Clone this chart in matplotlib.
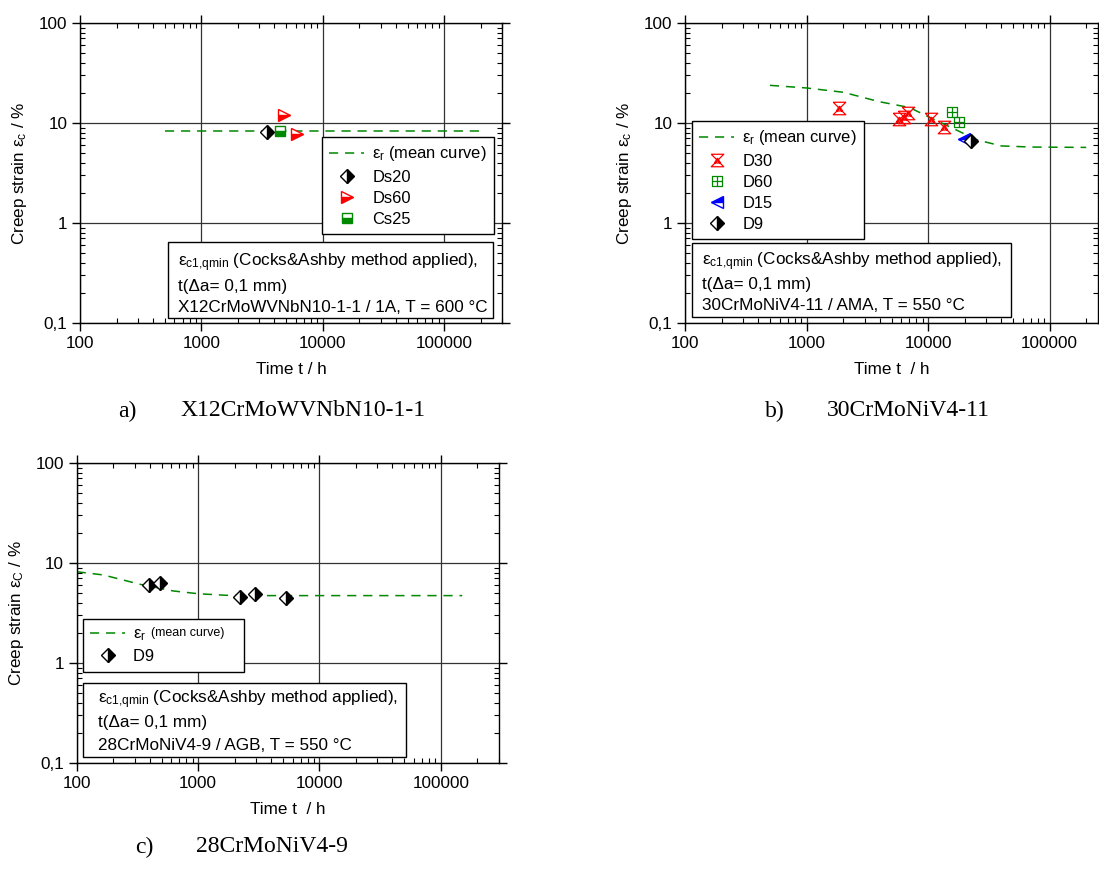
import matplotlib
matplotlib.use('Agg')
import matplotlib.pyplot as plt
from matplotlib.path import Path
from matplotlib.patches import Rectangle
from matplotlib.ticker import FixedLocator, FixedFormatter, LogLocator, NullFormatter

plt.rcParams['font.family'] = ['Liberation Sans', 'DejaVu Sans']
plt.rcParams['mathtext.fontset'] = 'custom'
plt.rcParams['mathtext.rm'] = 'Liberation Sans'
plt.rcParams['mathtext.it'] = 'Liberation Sans:italic'
plt.rcParams['mathtext.bf'] = 'Liberation Sans:bold'

# ---------------- data ----------------
xtick_vals = [100, 1000, 10000, 100000]
xtick_labels = ['100', '1000', '10000', '100000']
ytick_vals = [0.1, 1, 10, 100]
ytick_labels = ['0,1', '1', '10', '100']

# panel a: X12CrMoWVNbN10-1-1
a_mean_t = [500, 200000]
a_mean_e = [8.35, 8.35]
a_ds20_t = [3460]
a_ds20_e = [8.2]
a_ds60_t = [4830, 6110]
a_ds60_e = [12.0, 7.7]
a_cs25_t = [4460]
a_cs25_e = [8.3]

# panel b: 30CrMoNiV4-11
b_mean_t = [500, 1000, 2000, 4000, 7000, 10000, 16000, 25000, 40000, 70000, 200000]
b_mean_e = [23.8, 22.4, 20.3, 16.3, 14.3, 11.6, 8.85, 6.8, 5.9, 5.75, 5.7]
b_d30_t = [1840, 5730, 6300, 6850, 10470, 13500]
b_d30_e = [14.2, 10.9, 11.5, 12.7, 10.9, 9.2]
b_d60_t = [15800, 17900]
b_d60_e = [13.0, 10.3]
b_d15_t = [19700]
b_d15_e = [6.9]
b_d9_t = [22400]
b_d9_e = [6.6]

# panel c: 28CrMoNiV4-9
c_mean_t = [100, 166, 333, 627, 1000, 1725, 3000, 150000]
c_mean_e = [8.18, 7.59, 6.12, 5.25, 4.93, 4.75, 4.72, 4.72]
c_d9_t = [397, 486, 2220, 2970, 5280]
c_d9_e = [6.03, 6.26, 4.54, 4.86, 4.47]

# ---------------- figure ----------------
W, H = 1099, 873
fig = plt.figure(figsize=(W / 100, H / 100), dpi=100)


def fx(px):
    return px / W


def fy(py):
    return 1 - py / H


GREEN = '#008800'
RED = '#ff0000'
BLUE = '#0000ff'
FS = 12.3
LFS = 11.9

# custom markers
hourglass = Path([(-1, 1), (1, 1), (-1, -1), (1, -1), (-1, 1),
                  (-0.5, -0.4), (0.5, -0.4), (0, 0.35), (-0.5, -0.4)],
                 [Path.MOVETO, Path.LINETO, Path.LINETO, Path.LINETO, Path.LINETO,
                  Path.MOVETO, Path.LINETO, Path.LINETO, Path.LINETO])
boxplus = Path([(-1, -1), (1, -1), (1, 1), (-1, 1), (-1, -1),
                (0, -1), (0, 1), (-1, 0), (1, 0)],
               [Path.MOVETO, Path.LINETO, Path.LINETO, Path.LINETO, Path.CLOSEPOLY,
                Path.MOVETO, Path.LINETO, Path.MOVETO, Path.LINETO])

mean_style = dict(color=GREEN, lw=1.1, linestyle=(0, (6, 4.5)))
d9_style = dict(linestyle='none', marker='D', ms=7.5, fillstyle='right',
                markerfacecolor='black', markerfacecoloralt='white',
                markeredgecolor='black', mew=1)
EPS_C1 = 'ε$_\\mathrm{c1{,}qmin}$ (Cocks&Ashby method applied),'


def setup(ax, xmax, xlabel, ylabel):
    ax.set_xscale('log')
    ax.set_yscale('log')
    ax.set_xlim(100, xmax)
    ax.set_ylim(0.1, 100)
    ax.xaxis.set_major_locator(FixedLocator(xtick_vals))
    ax.xaxis.set_major_formatter(FixedFormatter(xtick_labels))
    ax.yaxis.set_major_locator(FixedLocator(ytick_vals))
    ax.yaxis.set_major_formatter(FixedFormatter(ytick_labels))
    ax.xaxis.set_minor_locator(LogLocator(base=10, subs=range(2, 10), numticks=20))
    ax.yaxis.set_minor_locator(LogLocator(base=10, subs=range(2, 10), numticks=20))
    ax.xaxis.set_minor_formatter(NullFormatter())
    ax.yaxis.set_minor_formatter(NullFormatter())
    ax.tick_params(which='major', direction='out', length=6, width=1,
                   top=True, right=True, labelsize=FS, pad=3)
    ax.tick_params(which='minor', direction='in', length=3.5, width=0.8,
                   top=True, right=True)
    ax.grid(True, which='major', color='#333333', lw=0.9)
    for s in ax.spines.values():
        s.set_linewidth(1)
        s.set_color('black')
    ax.set_xlabel(xlabel, fontsize=FS, labelpad=8)
    ax.set_ylabel(ylabel, fontsize=FS, labelpad=7)


def textbox(x0, y0, x1, y1, lines, ys, tx):
    fig.add_artist(Rectangle((fx(x0), fy(y1)), fx(x1) - fx(x0), fy(y0) - fy(y1),
                             transform=fig.transFigure, facecolor='white',
                             edgecolor='black', lw=1, zorder=5))
    for s, yy in zip(lines, ys):
        fig.text(fx(tx), fy(yy), s, fontsize=FS, ha='left', va='center', zorder=6)


def legend(ax, x0, y0, **kw):
    leg = ax.legend(loc='upper left', bbox_to_anchor=(fx(x0), fy(y0)),
                    bbox_transform=fig.transFigure, frameon=True, fancybox=False,
                    edgecolor='black', framealpha=1, fontsize=LFS, borderpad=0.45,
                    handlelength=2.1, handletextpad=0.5, labelspacing=0.37,
                    borderaxespad=0, **kw)
    leg.get_frame().set_linewidth(1)
    leg.set_zorder(7)
    return leg


# ---------- panel a ----------
axA = fig.add_axes([fx(80), fy(323), (502 - 80) / W, 300 / H])
setup(axA, 3.0e5, 'Time t / h', 'Creep strain ε$_\\mathrm{c}$ / %')
axA.plot(a_mean_t, a_mean_e, label='ε$_\\mathrm{r}$ (mean curve)', **mean_style)
axA.plot(a_ds20_t, a_ds20_e, label='Ds20', **d9_style)
axA.plot(a_ds60_t, a_ds60_e, linestyle='none', marker='>', ms=9, fillstyle='bottom',
         markerfacecolor=RED, markerfacecoloralt='white', markeredgecolor=RED,
         mew=1, label='Ds60')
axA.plot(a_cs25_t, a_cs25_e, linestyle='none', marker='s', ms=7, fillstyle='bottom',
         markerfacecolor=GREEN, markerfacecoloralt='white', markeredgecolor=GREEN,
         mew=1, label='Cs25')
legend(axA, 322, 137)
textbox(168, 242, 493, 318,
        [EPS_C1, 't(Δa= 0,1 mm)', 'X12CrMoWVNbN10-1-1 / 1A, T = 600 °C'],
        [263, 286, 307], 178)

# ---------- panel b ----------
axB = fig.add_axes([fx(685), fy(323), (1098 - 685) / W, 300 / H])
setup(axB, 2.5e5, 'Time t  / h', 'Creep strain ε$_\\mathrm{c}$ / %')
axB.plot(b_mean_t, b_mean_e, label='ε$_\\mathrm{r}$ (mean curve)', **mean_style)
axB.plot(b_d30_t, b_d30_e, linestyle='none', marker=hourglass, ms=9,
         markerfacecolor='none', markeredgecolor=RED, mew=0.9, label='D30')
axB.plot(b_d60_t, b_d60_e, linestyle='none', marker=boxplus, ms=7,
         markerfacecolor='none', markeredgecolor=GREEN, mew=0.9, label='D60')
axB.plot(b_d15_t, b_d15_e, linestyle='none', marker='<', ms=8.5, fillstyle='top',
         markerfacecolor=BLUE, markerfacecoloralt='white', markeredgecolor=BLUE,
         mew=1, label='D15')
axB.plot(b_d9_t, b_d9_e, label='D9', **d9_style)
legend(axB, 692, 121)
textbox(692, 243, 1011, 317,
        [EPS_C1, 't(Δa= 0,1 mm)', '30CrMoNiV4-11 / AMA, T = 550 °C'],
        [262, 285, 306], 702)

# ---------- panel c ----------
axC = fig.add_axes([fx(76.7), fy(763), (498.7 - 76.7) / W, 300 / H])
setup(axC, 3.0e5, 'Time t  / h', 'Creep strain ε$_\\mathrm{C}$ / %')
axC.plot(c_mean_t, c_mean_e, label='ε$_\\mathrm{r}$', **mean_style)
axC.plot(c_d9_t, c_d9_e, label='D9' + '\u2007' * 9, **d9_style)
legend(axC, 83, 619)
fig.text(fx(151), fy(633), '(mean curve)', fontsize=9, ha='left', va='center',
         zorder=10)
textbox(83, 683, 406, 757,
        [EPS_C1, 't(Δa= 0,1 mm)', '28CrMoNiV4-9 / AGB, T = 550 °C'],
        [700, 722, 745], 98)

# ---------- captions ----------
serif = ['Liberation Serif', 'DejaVu Serif']
cap_fs = 17
fig.text(fx(118), fy(411), 'a)', family=serif, fontsize=cap_fs, va='center')
fig.text(fx(180), fy(411), 'X12CrMoWVNbN10-1-1', family=serif, fontsize=cap_fs, va='center')
fig.text(fx(765), fy(411), 'b)', family=serif, fontsize=cap_fs, va='center')
fig.text(fx(827), fy(411), '30CrMoNiV4-11', family=serif, fontsize=cap_fs, va='center')
fig.text(fx(135), fy(847), 'c)', family=serif, fontsize=cap_fs, va='center')
fig.text(fx(196), fy(847), '28CrMoNiV4-9', family=serif, fontsize=cap_fs, va='center')

fig.savefig('out.png', dpi=100)
